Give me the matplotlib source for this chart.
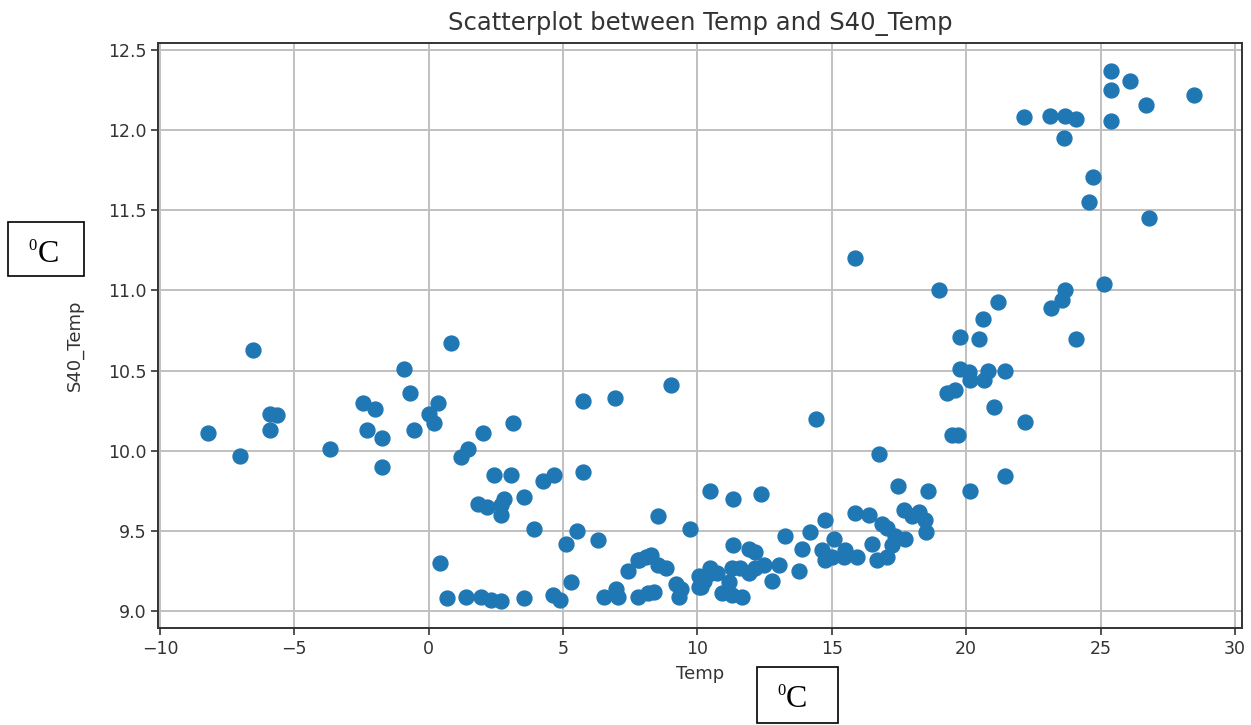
import matplotlib.pyplot as plt
from matplotlib.patches import Rectangle

# air temperature (Temp) and soil temperature at 40 cm (S40_Temp), degC
temp = [-8.21, -7.01, -6.53, -5.90, -5.63, -5.90, -3.66, -2.46, -1.98, -2.28,
        -1.72, -1.72, -0.93, -0.71, -0.56, 0.34, 0.00, 0.19, 0.82,
        3.13, 2.01, 1.46, 1.19, 5.75, 6.94, 9.03,
        2.43, 3.06, 4.25, 4.66, 5.75, 1.83, 2.16, 2.80, 2.69, 2.69, 3.54,
        3.92, 5.52, 5.11, 6.31, 8.54, 9.74, 0.41, 5.30,
        0.67, 1.38, 1.94, 2.31, 2.69, 3.54, 4.63, 4.89,
        6.53, 6.98, 7.05, 7.43, 7.84, 8.10, 7.80, 8.54, 8.84,
        7.80, 8.17, 8.40, 9.22, 9.40, 9.33, 10.04, 10.04, 8.28,
        14.40, 16.75, 17.46, 18.58, 19.29, 19.48, 10.45, 11.34, 12.35,
        11.34, 11.90, 12.13, 13.25, 13.88, 13.77, 14.18, 14.74, 14.63, 14.74,
        15.07, 15.49, 15.93, 15.45, 15.00, 15.86, 16.38, 16.49, 16.87, 17.05,
        16.68, 17.05, 17.35, 17.72, 17.69, 17.99, 18.25, 18.47, 18.51, 17.24,
        10.45, 10.52, 10.26, 10.15, 10.71, 11.27, 11.57, 11.90, 12.13, 12.46,
        13.02, 11.19, 10.90, 11.27, 11.64, 12.76,
        19.59, 21.04, 22.20, 19.70, 21.46, 20.15,
        25.37, 26.08, 25.37, 28.47, 26.68, 22.16, 23.10, 23.69, 24.07, 25.37,
        23.62, 24.70, 24.55, 26.79, 25.11, 18.99, 23.69, 23.58, 23.17, 21.19,
        20.63, 24.07, 19.78, 20.49, 19.78, 20.11, 20.82, 21.46, 20.15, 20.67,
        15.86]
s40_temp = [10.11, 9.97, 10.63, 10.23, 10.22, 10.13, 10.01, 10.30, 10.26, 10.13,
            10.08, 9.90, 10.51, 10.36, 10.13, 10.30, 10.23, 10.17, 10.67,
            10.17, 10.11, 10.01, 9.96, 10.31, 10.33, 10.41,
            9.85, 9.85, 9.81, 9.85, 9.87, 9.67, 9.65, 9.70, 9.66, 9.60, 9.71,
            9.51, 9.50, 9.42, 9.44, 9.59, 9.51, 9.30, 9.18,
            9.08, 9.09, 9.09, 9.07, 9.06, 9.08, 9.10, 9.07,
            9.09, 9.14, 9.09, 9.25, 9.32, 9.34, 9.32, 9.29, 9.27,
            9.09, 9.11, 9.12, 9.17, 9.14, 9.09, 9.22, 9.15, 9.35,
            10.20, 9.98, 9.78, 9.75, 10.36, 10.10, 9.75, 9.70, 9.73,
            9.41, 9.39, 9.37, 9.47, 9.39, 9.25, 9.49, 9.57, 9.38, 9.32,
            9.45, 9.38, 9.34, 9.34, 9.34, 9.61, 9.60, 9.42, 9.54, 9.52,
            9.32, 9.34, 9.47, 9.45, 9.63, 9.59, 9.62, 9.57, 9.49, 9.41,
            9.27, 9.24, 9.19, 9.15, 9.24, 9.27, 9.27, 9.24, 9.27, 9.29,
            9.29, 9.18, 9.11, 9.10, 9.09, 9.19,
            10.38, 10.27, 10.18, 10.10, 9.84, 9.75,
            12.37, 12.31, 12.25, 12.22, 12.16, 12.08, 12.09, 12.09, 12.07, 12.06,
            11.95, 11.71, 11.55, 11.45, 11.04, 11.00, 11.00, 10.94, 10.89, 10.93,
            10.82, 10.70, 10.71, 10.70, 10.51, 10.49, 10.50, 10.50, 10.44, 10.44,
            11.20]

fig = plt.figure(figsize=(12.51, 7.25), dpi=100)
ax = fig.add_axes([158 / 1251, 1 - 628 / 725, (1242 - 158) / 1251, (628 - 43) / 725])

ax.scatter(temp, s40_temp, s=115, color='#1f77b4', zorder=3)
ax.set_xlim(-10.07, 30.26)
ax.set_ylim(8.894, 12.544)
ax.set_xticks(range(-10, 31, 5))
ax.set_yticks([9.0, 9.5, 10.0, 10.5, 11.0, 11.5, 12.0, 12.5])
ax.grid(True, color='#c0c0c0', linewidth=1.4)
ax.set_axisbelow(True)
ax.tick_params(labelsize=12.5, length=5, width=1.2, colors='#333333')
for sp in ax.spines.values():
    sp.set_linewidth(1.4)
    sp.set_color('#333333')

ax.set_title("Scatterplot between Temp and S40_Temp", fontsize=17.5, color='#333333', pad=9)
ax.set_xlabel("Temp", fontsize=13, color='#333333', labelpad=5)
ax.set_ylabel("S40_Temp", fontsize=13, color='#333333')
ax.yaxis.set_label_coords(-0.068, 0.484)

# unit boxes next to the axes: box edges, "0" position, "C" position (pixels)
W, H = 1251, 725
boxes = [((8, 222, 84, 276), (32.5, 250), (48.5, 262)),
         ((757, 667, 838, 723), (781.5, 695), (796, 707))]
for (x0, y0, x1, y1), (zx, zy), (ccx, ccy) in boxes:
    fig.patches.append(Rectangle((x0 / W, 1 - y1 / H), (x1 - x0) / W, (y1 - y0) / H,
                                 transform=fig.transFigure, fill=False,
                                 edgecolor='black', linewidth=1.2))
    fig.text(zx / W, 1 - zy / H, "0", fontsize=12,
             family='Liberation Serif', ha='center', va='baseline')
    fig.text(ccx / W, 1 - ccy / H, "C", fontsize=23,
             family='Liberation Serif', ha='center', va='baseline')

fig.savefig("out.png", dpi=100)
